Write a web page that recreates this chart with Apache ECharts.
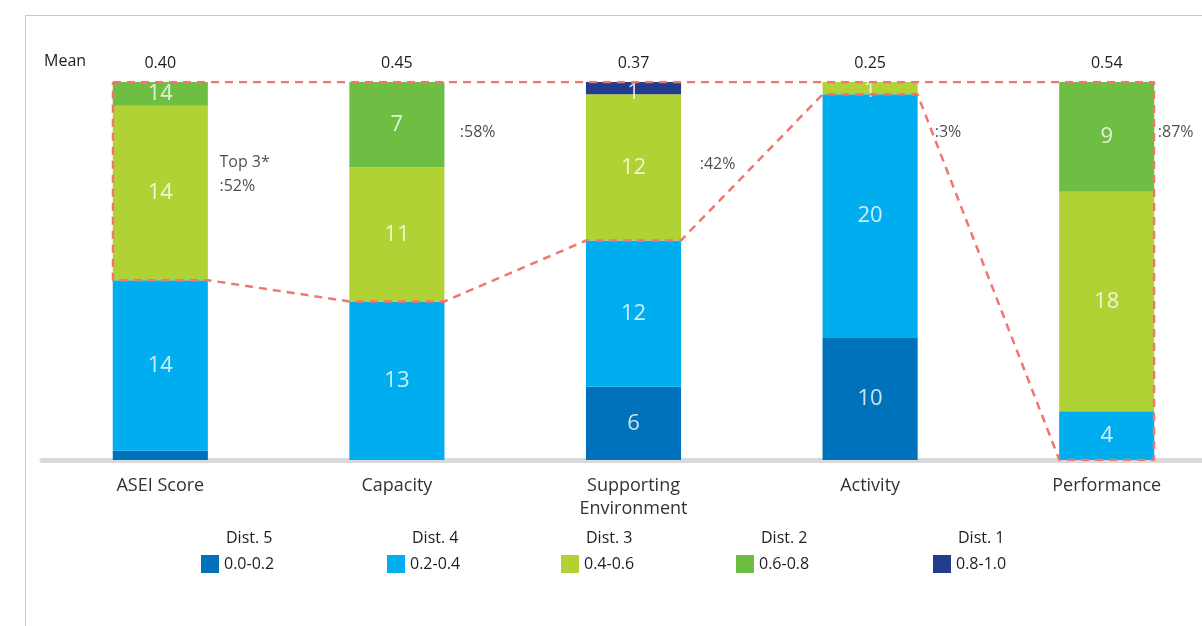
<!DOCTYPE html>
<html>
<head>
<meta charset="utf-8">
<script src="https://cdn.jsdelivr.net/npm/echarts@6/dist/echarts.min.js"></script>
<style>html,body{margin:0;padding:0;background:#fff;overflow:hidden;}#c{width:1230px;height:626px;}</style>
</head>
<body>
<div id="c"></div>
<script>
// ---- data ----
const categories = ['ASEI Score', 'Capacity', 'Supporting\nEnvironment', 'Activity', 'Performance'];
const meanValues = ['0.40', '0.45', '0.37', '0.25', '0.54'];
// segment heights (respondent counts, 31 per bar)
const dist5 = [0.75, 0, 6, 10, 0];
const dist4 = [14.0, 13, 12, 20, 4];
const dist3 = [14.3, 11, 12, 1, 18];
const dist2 = [1.95, 7, 0, 0, 9];
const dist1 = [0, 0, 1, 0, 0];
// printed segment labels
const dist5Labels = ['', '', '6', '10', ''];
const dist4Labels = ['14', '13', '12', '20', '4'];
const dist3Labels = ['14', '11', '12', '1', '18'];
const dist2Labels = ['14', '7', '', '', '9'];
const dist1Labels = ['', '', '1', '', ''];
const top3Labels = ['Top 3*\n:52%', ':58%', ':42%', ':3%', ':87%'];
// lower edge of the dashed "top 3" outline as drawn in the source
const outlineBase = [14.75, 13, 18, 30, 0];
const distNames = ['Dist. 5', 'Dist. 4', 'Dist. 3', 'Dist. 2', 'Dist. 1'];
const distRanges = ['0.0-0.2', '0.2-0.4', '0.4-0.6', '0.6-0.8', '0.8-1.0'];

// ---- layout / style ----
const TOTAL = 31;
const colors = ['#0072BC', '#00AEEF', '#B1D235', '#6FBE44', '#243C8C'];
const FONT = '"Open Sans", "Noto Sans", sans-serif';
const TXT = '#1e1e1e';
const HALF = 0.2; // half bar width in category units
const top3LabelX = [0.75, 1.766, 2.78, 3.773, 4.716];
const top3LabelY = [23.4, 26.9, 24.2, 26.9, 26.9];
const legendLeft = [201, 387, 561, 736, 933];
// pixel nudges for labels in very thin segments ("series,category")
const labelNudge = { '4,2': [0, 5], '2,3': [0, 3] };

const seriesVals = [dist5, dist4, dist3, dist2, dist1];
const seriesLabels = [dist5Labels, dist4Labels, dist3Labels, dist2Labels, dist1Labels];

const barSeries = distNames.map((n, k) => ({
  name: n,
  type: 'bar',
  stack: 'd',
  xAxisIndex: 0,
  yAxisIndex: 0,
  barWidth: '40.2%',
  itemStyle: { color: colors[k] },
  emphasis: { disabled: true },
  data: seriesVals[k]
}));

// segment labels placed at segment mid-points (computed from the stacked data)
const segLabelPts = [];
categories.forEach((c, i) => {
  let cum = 0;
  seriesVals.forEach((vals, k) => {
    const v = vals[i];
    if (seriesLabels[k][i] !== '') {
      const item = { value: [i + 0.5, cum + v / 2], text: seriesLabels[k][i] };
      const nudge = labelNudge[k + ',' + i];
      if (nudge) item.label = { offset: nudge };
      segLabelPts.push(item);
    }
    cum += v;
  });
});

const poly = [];
poly.push([0.5 - HALF, TOTAL]);
poly.push([4.5 + HALF, TOTAL]);
for (let i = 4; i >= 0; i--) {
  poly.push([i + 0.5 + HALF, outlineBase[i]]);
  poly.push([i + 0.5 - HALF, outlineBase[i]]);
}
poly.push([0.5 - HALF, TOTAL]);

const chart = echarts.init(document.getElementById('c'));
chart.setOption({
  animation: false,
  grid: { left: 42, width: 1183, top: 82, bottom: 166, containLabel: false },
  xAxis: [
    {
      type: 'category', data: categories, position: 'bottom', offset: 2,
      axisLine: { show: true, lineStyle: { color: '#D9D9D9', width: 5 } },
      axisTick: { show: false },
      axisLabel: { color: '#333', fontSize: 18, fontFamily: FONT, margin: 12, lineHeight: 23, interval: 0 }
    },
    {
      type: 'category', data: meanValues, position: 'top',
      axisLine: { show: false }, axisTick: { show: false },
      axisLabel: { color: TXT, fontSize: 16, fontFamily: FONT, margin: 11, interval: 0 }
    },
    { type: 'value', min: 0, max: 5, show: false }
  ],
  yAxis: { type: 'value', min: 0, max: TOTAL, show: false },
  legend: distNames.map((n, k) => ({
    data: [n], left: legendLeft[k], top: 555, padding: 0,
    icon: 'rect', itemWidth: 18, itemHeight: 18, itemGap: 0,
    selectedMode: false,
    formatter: () => distRanges[k],
    textStyle: { color: TXT, fontSize: 16, fontFamily: FONT, padding: [0, 0, 0, 0] }
  })),
  series: barSeries.concat([
    {
      type: 'scatter', xAxisIndex: 2, yAxisIndex: 0, symbolSize: 0, z: 9, silent: true,
      clip: false,
      data: segLabelPts,
      label: {
        show: true, position: 'inside', color: '#fff', fontSize: 22, fontFamily: FONT,
        formatter: p => p.data.text
      }
    },
    {
      type: 'line', xAxisIndex: 2, yAxisIndex: 0, data: poly, symbol: 'none', z: 10,
      lineStyle: { color: '#F2766F', width: 2.5, type: [8, 6] }, silent: true
    },
    {
      type: 'scatter', xAxisIndex: 2, yAxisIndex: 0, symbolSize: 0, z: 11, silent: true,
      data: top3LabelX.map((x, i) => [x, top3LabelY[i]]),
      label: {
        show: true, position: 'right', distance: 0, color: TXT, fontSize: 16,
        fontFamily: FONT, lineHeight: 24, align: 'left',
        formatter: p => top3Labels[p.dataIndex]
      }
    }
  ]),
  graphic: [
    { type: 'line', shape: { x1: 25, y1: 15.5, x2: 1230, y2: 15.5 }, style: { stroke: '#C8C8C8', lineWidth: 1 } },
    { type: 'line', shape: { x1: 25.5, y1: 15, x2: 25.5, y2: 626 }, style: { stroke: '#C8C8C8', lineWidth: 1 } },
    { type: 'text', left: 44, top: 53, style: { text: 'Mean', fill: TXT, font: '16px ' + FONT } }
  ].concat(distNames.map((n, k) => ({
    type: 'text', left: legendLeft[k] + 25, top: 530,
    style: { text: n, fill: TXT, font: '16px ' + FONT }
  })))
});
</script>
</body>
</html>
